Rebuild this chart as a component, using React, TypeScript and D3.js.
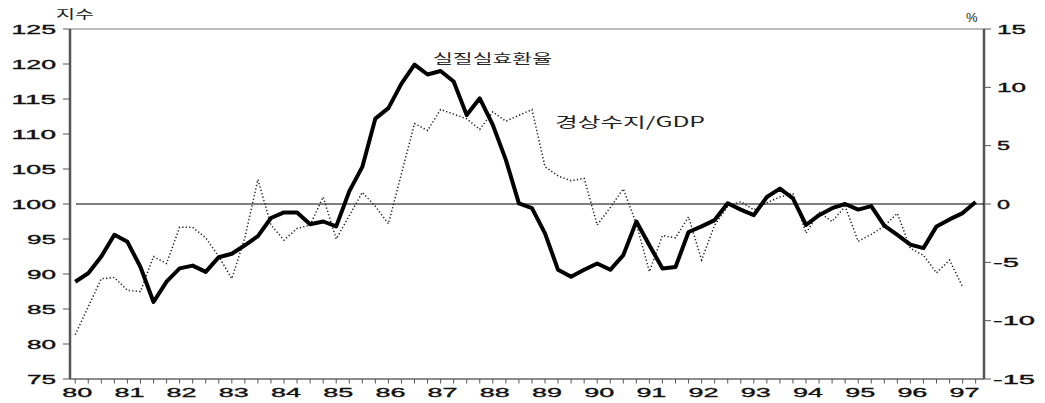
import * as d3 from 'd3';
import { useEffect } from 'react';

// quarterly, 1980Q1 ~ 1997Q2
const reer = [
    88.9, 90.1, 92.5, 95.6, 94.6, 91.0, 86.0, 88.9, 90.8, 91.2, 90.3, 92.4, 92.9, 94.1, 95.4,
    98.0, 98.8, 98.8, 97.1, 97.5, 96.8, 101.8, 105.3, 112.2, 113.7, 117.2, 119.9, 118.5, 119.0,
    117.5, 112.7, 115.1, 111.3, 106.3, 100.1, 99.4, 95.8, 90.6, 89.6, 90.6, 91.5, 90.6, 92.7,
    97.5, 94.1, 90.8, 91.0, 96.0, 96.8, 97.7, 100.1, 99.2, 98.4, 101.0, 102.2, 100.8, 97.0,
    98.4, 99.4, 100.0, 99.2, 99.7, 96.9, 95.6, 94.2, 93.7, 96.8, 97.8, 98.7, 100.3,
];

// quarterly, 1980Q1 ~ 1997Q1
const caGdp = [
    -11.2, -8.8, -6.4, -6.3, -7.4, -7.5, -4.5, -5.1, -2.0, -2.0, -2.9, -4.5, -6.4, -2.9, 2.1,
    -1.8, -3.1, -2.1, -1.8, 0.6, -3.0, -1.0, 1.0, -0.2, -1.7, 2.6, 6.9, 6.3, 8.1, 7.7, 7.3,
    6.4, 7.9, 7.1, 7.6, 8.1, 3.2, 2.4, 2.0, 2.2, -1.8, -0.3, 1.3, -1.7, -5.8, -2.7, -2.9, -1.1,
    -4.8, -1.8, -0.2, 0.2, -0.5, 0.1, 0.6, 0.9, -2.5, -0.7, -1.5, -0.2, -3.2, -2.6, -1.9, -0.8,
    -3.8, -4.4, -5.9, -4.8, -7.1,
];

const years = d3.range(1980, 1998);
const leftTicks = d3.range(75, 126, 5);
const rightTicks = d3.range(-15, 16, 5);

const W = 1045;
const H = 403;
const L = 70;
const R = 984;
const T = 29;
const B = 379;

const x = d3.scaleLinear().domain([1979.9, 1997.41]).range([L, R]);
const yL = d3.scaleLinear().domain([75, 125]).range([B, T]);
const yR = d3.scaleLinear().domain([-15, 15]).range([B, T]);

const qTime = (i: number) => 1980 + i / 4;

const numFont = '"Liberation Sans", Arial, sans-serif';
const krFont = '"Noto Sans CJK KR", sans-serif';

export default function App() {
    useEffect(() => {
        document.body.style.margin = '0';
    }, []);

    const reerLine = d3
        .line<number>()
        .x((_, i) => x(qTime(i)))
        .y((d) => yL(d));
    const caLine = d3
        .line<number>()
        .x((_, i) => x(qTime(i)))
        .y((d) => yR(d));

    const quarters = d3.range(0, 70).map(qTime);
    const advance = 15.5;
    const numStyle = { stroke: '#111', strokeWidth: 0.35 };

    return (
        <svg width={W} height={H} style={{ display: 'block', background: '#fff' }}>
            {/* frame */}
            <line x1={L} x2={R} y1={T} y2={T} stroke="#777" strokeWidth={1} />
            <line x1={L} x2={R} y1={B} y2={B} stroke="#666" strokeWidth={1.5} />
            <line x1={L} x2={L} y1={T} y2={B} stroke="#555" strokeWidth={2.5} />
            <line x1={R} x2={R} y1={T} y2={B} stroke="#555" strokeWidth={2.5} />

            {/* 100 / 0% line */}
            <line x1={76} x2={R} y1={yL(100)} y2={yL(100)} stroke="#000" strokeWidth={1} />

            {/* left axis */}
            {leftTicks.map((v) => {
                const s = String(v);
                return (
                    <g key={'l' + v}>
                        <line x1={L - 7} x2={L} y1={yL(v)} y2={yL(v)} stroke="#555" strokeWidth={1} />
                        <text
                            x={56}
                            y={yL(v) + 4.5}
                            textAnchor="end"
                            fontFamily={numFont}
                            fontSize={12.5}
                            textLength={s.length * advance - 2}
                            lengthAdjust="spacingAndGlyphs"
                            fill="#111"
                            style={numStyle}
                        >
                            {s}
                        </text>
                    </g>
                );
            })}

            {/* right axis */}
            {rightTicks.map((v) => {
                const s = v < 0 ? '-' + Math.abs(v) : String(v);
                const digits = String(Math.abs(v)).length;
                const len = digits * 16 + (v < 0 ? 13 : 0) - 3;
                return (
                    <g key={'r' + v}>
                        <line x1={R} x2={R + 7} y1={yR(v)} y2={yR(v)} stroke="#555" strokeWidth={1} />
                        <text
                            x={v < 0 ? 993 : 997}
                            y={yR(v) + 4.5}
                            textAnchor="start"
                            fontFamily={numFont}
                            fontSize={12.5}
                            textLength={len}
                            lengthAdjust="spacingAndGlyphs"
                            fill="#111"
                            style={numStyle}
                        >
                            {s}
                        </text>
                    </g>
                );
            })}

            {/* bottom axis */}
            {quarters.map((q, i) => (
                <line key={'q' + i} x1={x(q)} x2={x(q)} y1={B} y2={B + 4.5} stroke="#555" strokeWidth={1} />
            ))}
            {years.map((yr) => (
                <text
                    key={'y' + yr}
                    x={x(yr) + 2}
                    y={397}
                    textAnchor="middle"
                    fontFamily={numFont}
                    fontSize={13.5}
                    textLength={30}
                    lengthAdjust="spacingAndGlyphs"
                    fill="#111"
                    style={numStyle}
                >
                    {String(yr).slice(2)}
                </text>
            ))}

            {/* axis units */}
            <text x={56} y={19} fontFamily={krFont} fontSize={12} textLength={38} lengthAdjust="spacingAndGlyphs" fill="#222">
                지수
            </text>
            <text x={966} y={22} fontFamily={numFont} fontSize={13} fill="#222">
                %
            </text>

            {/* series */}
            <path
                d={caLine(caGdp) ?? ''}
                fill="none"
                stroke="#222"
                strokeWidth={1.5}
                strokeDasharray="1.3 2.2"
            />
            <path
                d={reerLine(reer) ?? ''}
                fill="none"
                stroke="#000"
                strokeWidth={4}
                strokeLinejoin="round"
            />

            {/* series labels */}
            <text x={433} y={63} fontFamily={krFont} fontSize={13} textLength={119} lengthAdjust="spacingAndGlyphs" fill="#222">
                실질실효환율
            </text>
            <text x={555} y={127} fontFamily={krFont} fontSize={14} textLength={150} lengthAdjust="spacingAndGlyphs" fill="#222">
                경상수지/GDP
            </text>
        </svg>
    );
}
